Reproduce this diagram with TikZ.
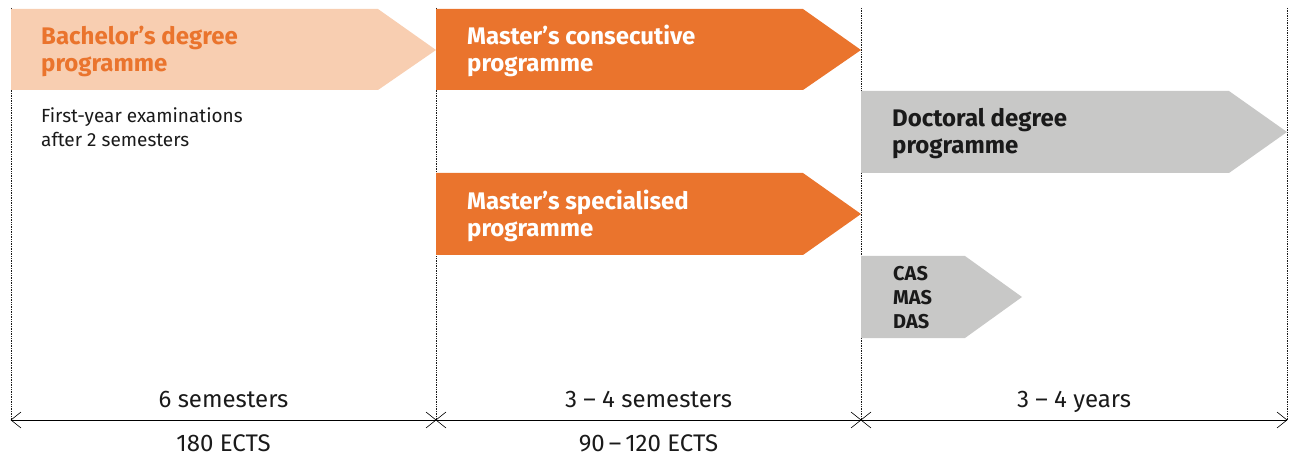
\documentclass[tikz,border=0pt]{standalone}
\usepackage{fontspec}
\setmainfont{Fira Sans}
\usetikzlibrary{calc}
\definecolor{peach}{HTML}{F8CEB1}
\definecolor{orng}{HTML}{EA742D}
\definecolor{grayb}{HTML}{C8C8C7}
\definecolor{ink}{HTML}{1A1A1A}
\begin{document}
\begin{tikzpicture}[x=1pt,y=-1pt,
  title/.style={anchor=west,align=left,font=\fontsize{24}{27}\selectfont\bfseries,inner sep=0pt},
  small/.style={anchor=west,align=left,font=\fontsize{19}{24}\selectfont,text=ink,inner sep=0pt},
  scale lbl/.style={anchor=base,font=\fontsize{24}{28}\selectfont,text=ink,inner sep=0pt},
  sep/.style={densely dotted,line width=0.7pt,draw=ink},
  axis/.style={line width=1pt,draw=black},
  tipl/.style={line width=0.6pt,draw=black}]
\useasboundingbox (0,0) rectangle (1296,457);
% separators
\foreach \x/\n in {11/a,436/b,861/c,1287/d}{
  \coordinate (top\n) at (\x,8);
  \coordinate (bot\n) at (\x,420);
  \draw[sep] (top\n) -- (bot\n);
}
% shapes
\fill[peach] (11,9) -- (378,9) -- (436,50) -- (378,90) -- (11,90) -- cycle;
\fill[orng] (436,9) -- (803,9) -- (861,50) -- (803,90) -- (436,90) -- cycle;
\fill[orng] (436,173) -- (803,173) -- (861,214) -- (803,255) -- (436,255) -- cycle;
\fill[grayb] (861,91) -- (1229,91) -- (1287,132) -- (1229,173) -- (861,173) -- cycle;
\fill[grayb] (861,256) -- (965,256) -- (1022,297) -- (965,338) -- (861,338) -- cycle;
% texts
\node[title,text=orng] (bach) at (41,51) {Bachelor’s degree\\programme};
\node[small] (exam) at (41,127) {First-year examinations\\after 2 semesters};
\node[title,text=white] (mcons) at (467,51) {Master’s consecutive\\programme};
\node[title,text=white] (mspec) at (467,215.5) {Master’s specialised\\programme};
\node[title,text=ink] (doc) at (892,133.5) {Doctoral degree\\programme};
\node[anchor=west,align=left,font=\fontsize{20}{24}\selectfont\bfseries,text=ink,inner sep=0pt] (cas) at (893,298) {CAS\\MAS\\DAS};
% axis
\draw[axis] (bota) -- (botd);
\foreach \n in {a,b,c}{
  \draw[tipl] ($(bot\n)+(10,-8)$) -- (bot\n) -- ($(bot\n)+(10,8)$);
}
\foreach \n in {b,c,d}{
  \draw[tipl] ($(bot\n)+(-10,-8)$) -- (bot\n) -- ($(bot\n)+(-10,8)$);
}
\node[scale lbl] (s1) at (223.5,407) {6 semesters};
\node[scale lbl] (s2) at (648.5,407) {3 – 4 semesters};
\node[scale lbl] (s3) at (1074,407) {3 – 4 years};
\node[scale lbl] (e1) at (223.5,451) {180 ECTS};
\node[scale lbl] (e2) at (648.5,451) {90\,–\,120 ECTS};
\end{tikzpicture}
\end{document}
